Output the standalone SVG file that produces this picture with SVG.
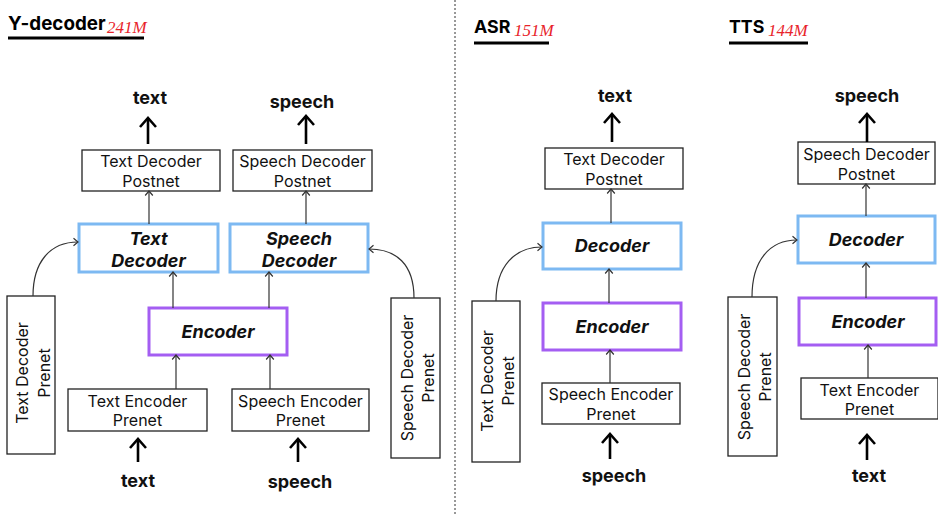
<svg xmlns="http://www.w3.org/2000/svg" width="938" height="515" viewBox="0 0 938 515">
<defs>
<style>
.box{fill:#fff;stroke:#222;stroke-width:1.3}
.dec{fill:#fff;stroke:#7db9f2;stroke-width:3}
.enc{fill:#fff;stroke:#a45ef2;stroke-width:3}
.lbl{font-family:Inter,"Liberation Sans",sans-serif;font-size:16px;fill:#111;text-anchor:middle}
.blk{font-family:Inter,"Liberation Sans",sans-serif;font-size:18px;font-weight:bold;font-style:italic;fill:#111;text-anchor:middle}
.io{font-family:Inter,"Liberation Sans",sans-serif;font-size:18px;font-weight:bold;fill:#111;text-anchor:middle}
.ttl{font-family:Inter,"Liberation Sans",sans-serif;font-weight:bold;fill:#000}
.sub{font-family:"Liberation Serif",serif;font-style:italic;font-size:17px;fill:#e8232a}
.thin{fill:none;stroke:#333;stroke-width:1.2}
.thick{fill:none;stroke:#000;stroke-width:2.6}
.ul{stroke:#000;stroke-width:3.2}
</style>
<marker id="ah" viewBox="-10 -10 20 20" markerWidth="20" markerHeight="20" refX="0" refY="0" orient="auto" markerUnits="userSpaceOnUse">
<path d="M-4.5,-3.8 L0,0 L-4.5,3.8" fill="none" stroke="#333" stroke-width="1.2"/>
</marker>
<marker id="AH" viewBox="-12 -12 24 24" markerWidth="24" markerHeight="24" refX="0" refY="0" orient="auto" markerUnits="userSpaceOnUse">
<path d="M-9,-8 L0,0 L-9,8" fill="none" stroke="#000" stroke-width="2.6" stroke-linejoin="miter"/>
</marker>
</defs>

<g id="titles">
<text class="ttl" x="8" y="30" font-size="18.8">Y-decoder</text>
<text class="sub" x="107" y="33">241M</text>
<line class="ul" x1="8" y1="38" x2="144" y2="38"/>
<text class="ttl" x="474" y="33" font-size="17.8">ASR</text>
<text class="sub" x="514" y="36">151M</text>
<line class="ul" x1="474" y1="43" x2="549" y2="43"/>
<text class="ttl" x="729" y="33" font-size="17.8">TTS</text>
<text class="sub" x="768" y="36">144M</text>
<line class="ul" x1="729" y1="43" x2="808" y2="43"/>
</g>

<g id="divider">
<line x1="455" y1="0" x2="455" y2="515" stroke="#333" stroke-width="1" stroke-dasharray="2,2"/>
</g>

<!-- Y-decoder panel -->
<g id="y-text-out"><text class="io" x="150" y="104">text</text></g>
<g id="y-speech-out"><text class="io" x="302" y="108">speech</text></g>
<g id="y-text-in"><text class="io" x="138" y="487">text</text></g>
<g id="y-speech-in"><text class="io" x="300" y="488">speech</text></g>

<g id="y-text-decoder-postnet">
<rect class="box" x="82" y="150" width="138" height="41"/>
<text class="lbl" x="151" y="167">Text Decoder</text>
<text class="lbl" x="151" y="187">Postnet</text>
</g>
<g id="y-speech-decoder-postnet">
<rect class="box" x="233" y="150" width="139" height="41"/>
<text class="lbl" x="302.5" y="167">Speech Decoder</text>
<text class="lbl" x="302.5" y="187">Postnet</text>
</g>
<g id="y-text-decoder">
<rect class="dec" x="79" y="224" width="139" height="48"/>
<text class="blk" x="148.5" y="245">Text</text>
<text class="blk" x="148.5" y="267">Decoder</text>
</g>
<g id="y-speech-decoder">
<rect class="dec" x="230" y="224" width="138" height="48"/>
<text class="blk" x="299" y="245">Speech</text>
<text class="blk" x="299" y="267">Decoder</text>
</g>
<g id="y-encoder">
<rect class="enc" x="149" y="308" width="138" height="47"/>
<text class="blk" x="218" y="338">Encoder</text>
</g>
<g id="y-text-encoder-prenet">
<rect class="box" x="68" y="389" width="139" height="42"/>
<text class="lbl" x="137.5" y="407">Text Encoder</text>
<text class="lbl" x="137.5" y="426">Prenet</text>
</g>
<g id="y-speech-encoder-prenet">
<rect class="box" x="232" y="389" width="137" height="42"/>
<text class="lbl" x="300.5" y="407">Speech Encoder</text>
<text class="lbl" x="300.5" y="426">Prenet</text>
</g>
<g id="y-text-decoder-prenet">
<rect class="box" x="7" y="296" width="48" height="158"/>
<g transform="translate(31,373) rotate(-90)">
<text class="lbl" x="0" y="-3">Text Decoder</text>
<text class="lbl" x="0" y="19">Prenet</text>
</g>
</g>
<g id="y-speech-decoder-prenet">
<rect class="box" x="391" y="298" width="49" height="160"/>
<g transform="translate(415.5,378) rotate(-90)">
<text class="lbl" x="0" y="-3">Speech Decoder</text>
<text class="lbl" x="0" y="18.5">Prenet</text>
</g>
</g>

<!-- ASR panel -->
<g id="asr-text-out"><text class="io" x="615" y="102">text</text></g>
<g id="asr-speech-in"><text class="io" x="614" y="482">speech</text></g>
<g id="asr-text-decoder-postnet">
<rect class="box" x="545" y="148" width="138" height="41"/>
<text class="lbl" x="614" y="165">Text Decoder</text>
<text class="lbl" x="614" y="185">Postnet</text>
</g>
<g id="asr-decoder">
<rect class="dec" x="543" y="223" width="138" height="46"/>
<text class="blk" x="612" y="252">Decoder</text>
</g>
<g id="asr-encoder">
<rect class="enc" x="543" y="303" width="138" height="47"/>
<text class="blk" x="612" y="333">Encoder</text>
</g>
<g id="asr-speech-encoder-prenet">
<rect class="box" x="542" y="383" width="138" height="41"/>
<text class="lbl" x="611" y="400">Speech Encoder</text>
<text class="lbl" x="611" y="420">Prenet</text>
</g>
<g id="asr-text-decoder-prenet">
<rect class="box" x="472" y="301" width="48" height="161"/>
<g transform="translate(496,381) rotate(-90)">
<text class="lbl" x="0" y="-3">Text Decoder</text>
<text class="lbl" x="0" y="18">Prenet</text>
</g>
</g>

<!-- TTS panel -->
<g id="tts-speech-out"><text class="io" x="867" y="102">speech</text></g>
<g id="tts-text-in"><text class="io" x="869" y="482">text</text></g>
<g id="tts-speech-decoder-postnet">
<rect class="box" x="798" y="142" width="137" height="42"/>
<text class="lbl" x="866.5" y="160">Speech Decoder</text>
<text class="lbl" x="866.5" y="180">Postnet</text>
</g>
<g id="tts-decoder">
<rect class="dec" x="798" y="216" width="137" height="47"/>
<text class="blk" x="866" y="246">Decoder</text>
</g>
<g id="tts-encoder">
<rect class="enc" x="799" y="298" width="137" height="47"/>
<text class="blk" x="868" y="328">Encoder</text>
</g>
<g id="tts-text-encoder-prenet">
<rect class="box" x="801" y="378" width="137" height="41"/>
<text class="lbl" x="869.5" y="396">Text Encoder</text>
<text class="lbl" x="869.5" y="415">Prenet</text>
</g>
<g id="tts-speech-decoder-prenet">
<rect class="box" x="728" y="297" width="49" height="159"/>
<g transform="translate(752.5,377) rotate(-90)">
<text class="lbl" x="0" y="-3">Speech Decoder</text>
<text class="lbl" x="0" y="18">Prenet</text>
</g>
</g>

<g id="connectors">
<!-- Y-decoder -->
<line class="thick" x1="148" y1="144" x2="148" y2="118" marker-end="url(#AH)"/>
<line class="thick" x1="306" y1="144" x2="306" y2="116" marker-end="url(#AH)"/>
<line class="thick" x1="138" y1="462" x2="138" y2="439" marker-end="url(#AH)"/>
<line class="thick" x1="298" y1="462" x2="298" y2="439" marker-end="url(#AH)"/>
<line class="thin" x1="149" y1="224" x2="149" y2="191" marker-end="url(#ah)"/>
<line class="thin" x1="306" y1="224" x2="306" y2="191" marker-end="url(#ah)"/>
<line class="thin" x1="173" y1="308" x2="173" y2="272" marker-end="url(#ah)"/>
<line class="thin" x1="269" y1="308" x2="269" y2="272" marker-end="url(#ah)"/>
<line class="thin" x1="176" y1="389" x2="176" y2="355" marker-end="url(#ah)"/>
<line class="thin" x1="270" y1="389" x2="270" y2="355" marker-end="url(#ah)"/>
<path class="thin" d="M33,296 C33,262 50,242 78,242" marker-end="url(#ah)"/>
<path class="thin" d="M414,298 C414,264 396,249 369,249" marker-end="url(#ah)"/>
<!-- ASR -->
<line class="thick" x1="612" y1="142" x2="612" y2="114" marker-end="url(#AH)"/>
<line class="thick" x1="610" y1="459" x2="610" y2="434" marker-end="url(#AH)"/>
<line class="thin" x1="611" y1="223" x2="611" y2="189" marker-end="url(#ah)"/>
<line class="thin" x1="609" y1="303" x2="609" y2="269" marker-end="url(#ah)"/>
<line class="thin" x1="610" y1="383" x2="610" y2="350" marker-end="url(#ah)"/>
<path class="thin" d="M496,301 C496,266 515,247 542,247" marker-end="url(#ah)"/>
<!-- TTS -->
<line class="thick" x1="867" y1="142" x2="867" y2="114" marker-end="url(#AH)"/>
<line class="thick" x1="867" y1="460" x2="867" y2="435" marker-end="url(#AH)"/>
<line class="thin" x1="866" y1="216" x2="866" y2="184" marker-end="url(#ah)"/>
<line class="thin" x1="866" y1="298" x2="866" y2="263" marker-end="url(#ah)"/>
<line class="thin" x1="868" y1="378" x2="868" y2="345" marker-end="url(#ah)"/>
<path class="thin" d="M752,297 C752,260 770,240 797,240" marker-end="url(#ah)"/>
</g>
</svg>
